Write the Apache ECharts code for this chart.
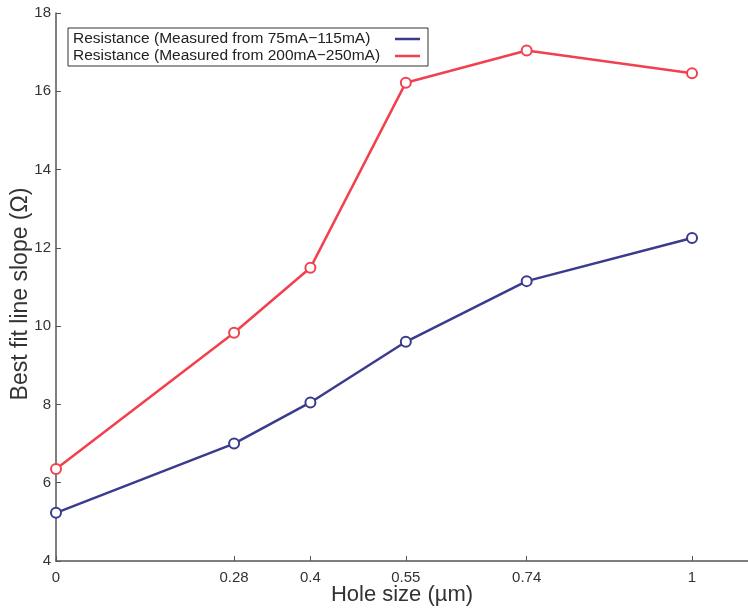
<!DOCTYPE html>
<html>
<head>
<meta charset="utf-8">
<script src="https://cdn.jsdelivr.net/npm/echarts@6/dist/echarts.min.js"></script>
<style>html,body{margin:0;padding:0;background:#fff}#c{width:748px;height:611px}</style>
</head>
<body>
<div id="c"></div>
<script>
const holeSizes = [0, 0.28, 0.4, 0.55, 0.74, 1];
const lowCurrent = [5.23, 7.0, 8.05, 9.6, 11.15, 12.25];
const highCurrent = [6.35, 9.83, 11.49, 16.22, 17.04, 16.46];
const xTicks = [0, 0.28, 0.4, 0.55, 0.74, 1];
const yTicks = [4, 6, 8, 10, 12, 14, 16, 18];
const seriesNames = ['Resistance (Measured from 75mA\u2212115mA)', 'Resistance (Measured from 200mA\u2212250mA)'];

const pairs = v => holeSizes.map((x, i) => [x, v[i]]);
const font = 'Liberation Sans, Arial, Helvetica, sans-serif';
const chart = echarts.init(document.getElementById('c'), null, {renderer: 'canvas'});
chart.setOption({
  animation: false,
  backgroundColor: '#ffffff',
  grid: {left: 56, top: 13, bottom: 50, right: 0, containLabel: false, outerBoundsMode: 'none'},
  legend: {
    orient: 'vertical', align: 'right', left: 68, top: 28,
    padding: [3, 8, 2, 5], itemGap: 1,
    borderColor: '#333', borderWidth: 1, backgroundColor: '#fff',
    icon: 'rect', itemWidth: 25, itemHeight: 2.5,
    formatter: name => '{t|' + name + '}',
    textStyle: {
      fontFamily: font, fontSize: 15.5, color: '#222',
      rich: {t: {fontFamily: font, fontSize: 15.5, color: '#222', width: 317, align: 'left'}}
    },
    data: seriesNames
  },
  xAxis: {
    type: 'value', min: 0, max: 1.088,
    name: 'Hole size (\u00b5m)', nameLocation: 'middle', nameGap: 23, nameMoveOverlap: false,
    nameTextStyle: {fontFamily: font, fontSize: 22, color: '#333'},
    axisLine: {show: true, onZero: false, lineStyle: {color: '#555', width: 1.5}},
    axisTick: {show: true, inside: true, length: 5, customValues: xTicks, lineStyle: {color: '#555'}},
    axisLabel: {customValues: xTicks, fontFamily: font, fontSize: 15, color: '#333', margin: 9,
      formatter: v => String(v)},
    splitLine: {show: false}
  },
  yAxis: {
    type: 'value', min: 4, max: 18, interval: 2,
    name: 'Best fit line slope (\u03a9)', nameLocation: 'middle', nameGap: 24, nameMoveOverlap: false,
    nameTextStyle: {fontFamily: font, fontSize: 23, color: '#333', padding: [0, 14, 0, 0]},
    axisLine: {show: true, lineStyle: {color: '#555', width: 1.5}},
    axisTick: {show: true, inside: true, length: 5, lineStyle: {color: '#555'}},
    axisLabel: {customValues: yTicks, fontFamily: font, fontSize: 15, color: '#333', margin: 5},
    splitLine: {show: false}
  },
  series: [
    {
      name: seriesNames[0], type: 'line', data: pairs(lowCurrent),
      symbol: 'emptyCircle', symbolSize: 10,
      lineStyle: {color: '#3b3b8e', width: 2.5},
      itemStyle: {color: '#3b3b8e', borderWidth: 2.5}
    },
    {
      name: seriesNames[1], type: 'line', data: pairs(highCurrent),
      symbol: 'emptyCircle', symbolSize: 10,
      lineStyle: {color: '#f2404e', width: 2.5},
      itemStyle: {color: '#f2404e', borderWidth: 2.5}
    }
  ]
});
</script>
</body>
</html>
